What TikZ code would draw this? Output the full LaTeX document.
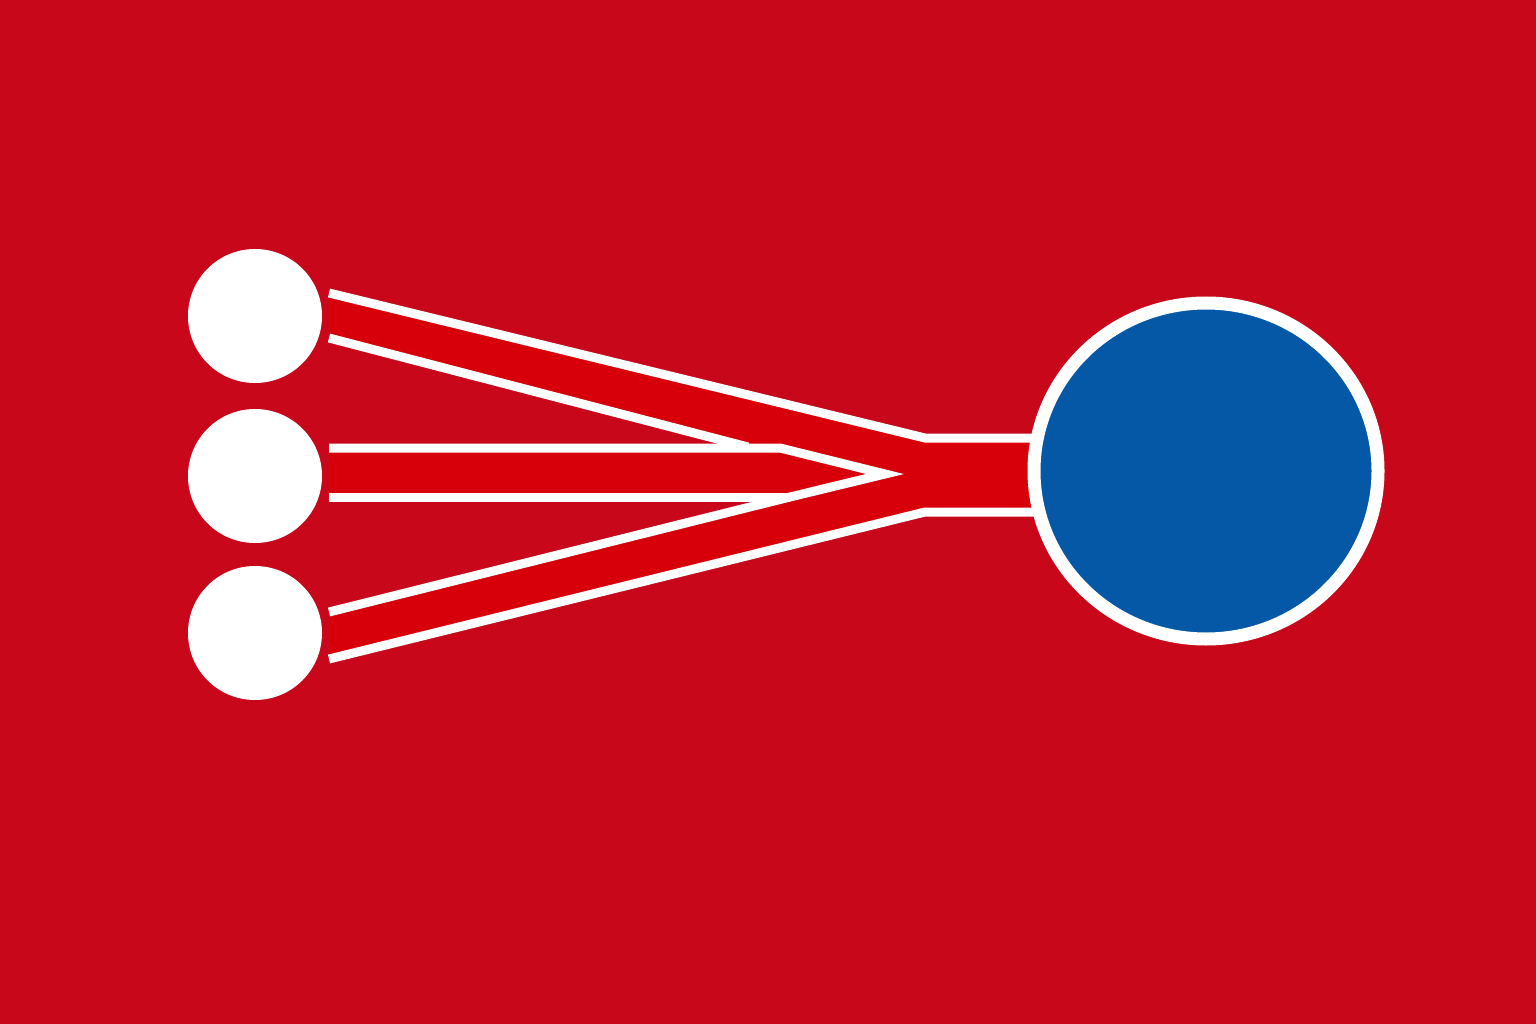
\documentclass[tikz,border=0pt]{standalone}
\usetikzlibrary{shapes.geometric}
\definecolor{bgred}{RGB}{200,8,26}
\definecolor{bandred}{RGB}{215,0,10}
\definecolor{hubblue}{RGB}{4,88,166}
\begin{document}
\begin{tikzpicture}[x=1pt,y=-1pt,
  edge/.style={draw=white,line width=9pt,line cap=butt,line join=miter},
  dot/.style={circle,fill=white,minimum size=134pt,inner sep=0pt},
  hub/.style={ellipse,fill=hubblue,draw=white,line width=13pt,minimum width=344pt,minimum height=336pt,inner sep=0pt}]
\useasboundingbox (0,0) rectangle (1536,1024);
\fill[bgred] (0,0) rectangle (1536,1024);
% white source circles
\node[dot] (s1) at (255,316) {};
\node[dot] (s2) at (255,476) {};
\node[dot] (s3) at (255,633) {};
% key points
\coordinate (tip) at (885,474);
\coordinate (jt) at (925,438);
\coordinate (jb) at (925,512);
\coordinate (et) at (1040,438);
\coordinate (eb) at (1040,512);
% band fill (union)
\fill[bandred] (329,293) -- (jt) -- (et) -- (eb) -- (jb) -- (329,659) -- (329,612)
  -- (790,497) -- (329,497) -- (329,448) -- (746,448) -- (329,338) -- cycle;
% white edges
\draw[edge] (329,293) -- (jt) -- (et);
\draw[edge] (329,659) -- (jb) -- (eb);
\draw[edge] (329,338) -- (748,447);
\draw[edge] (329,448) -- (780,448) -- (tip) -- (790,497) -- (329,612);
\draw[edge] (329,497) -- (790,497);
% hub circle
\node[hub] (h) at (1206,471) {};
\end{tikzpicture}
\end{document}
